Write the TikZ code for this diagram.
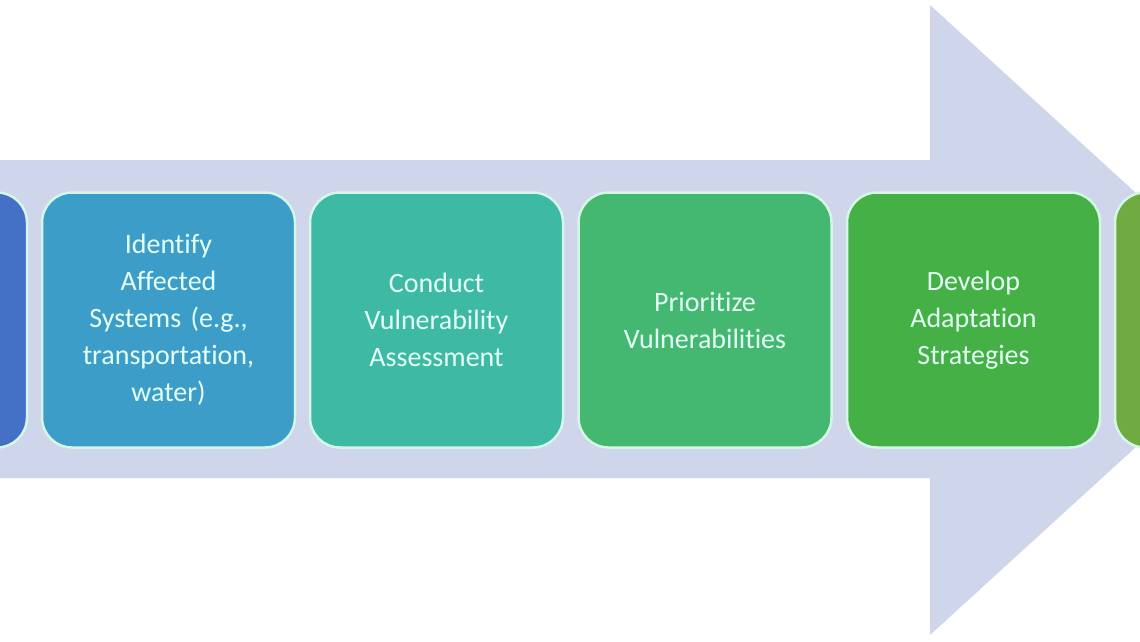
\documentclass[tikz,border=0pt]{standalone}
\usepackage{fontspec}
\setmainfont{Carlito}[Ligatures=NoCommon]

\definecolor{arrowfill}{RGB}{207,213,234}
\definecolor{boxline}{RGB}{214,247,232}
\definecolor{boxtext}{RGB}{228,255,246}
\definecolor{stepA}{RGB}{68,112,198}
\definecolor{stepB}{RGB}{60,158,200}
\definecolor{stepC}{RGB}{62,186,164}
\definecolor{stepD}{RGB}{68,184,112}
\definecolor{stepE}{RGB}{69,176,70}
\definecolor{stepF}{RGB}{112,170,66}

\tikzset{
  stepbox/.style={draw=boxline, line width=2.5pt, rounded corners=30pt,
    minimum width=253pt, minimum height=255pt, inner sep=0pt,
    text width=240pt, align=center, text=boxtext,
    font=\fontsize{28}{37}\selectfont}
}

\begin{document}
\begin{tikzpicture}[x=1pt,y=1pt,yscale=-1,xscale=1]
\useasboundingbox (0,0) rectangle (1140,641);
\clip (0,0) rectangle (1140,641);
\fill[white] (0,0) rectangle (1140,641);

%Shape: big arrow
\fill[arrowfill] (-20,160) -- (930,160) -- (930,5) -- (1275,320) -- (930,635) -- (930,478) -- (-20,478) -- cycle;

%Steps
\node[stepbox, fill=stepA] (stepA) at (-99.5,320) {};
\node[stepbox, fill=stepB] (stepB) at (168.5,320) {Identify\\Affected\\Systems (e.g.,\\transportation,\\water)};
\node[stepbox, fill=stepC] (stepC) at (436.5,320) {Conduct\\Vulnerability\\Assessment};
\node[stepbox, fill=stepD] (stepD) at (705,320) {Prioritize\\Vulnerabilities};
\node[stepbox, fill=stepE] (stepE) at (973.5,320) {Develop\\Adaptation\\Strategies};
\node[stepbox, fill=stepF] (stepF) at (1241.5,320) {};

\end{tikzpicture}
\end{document}
